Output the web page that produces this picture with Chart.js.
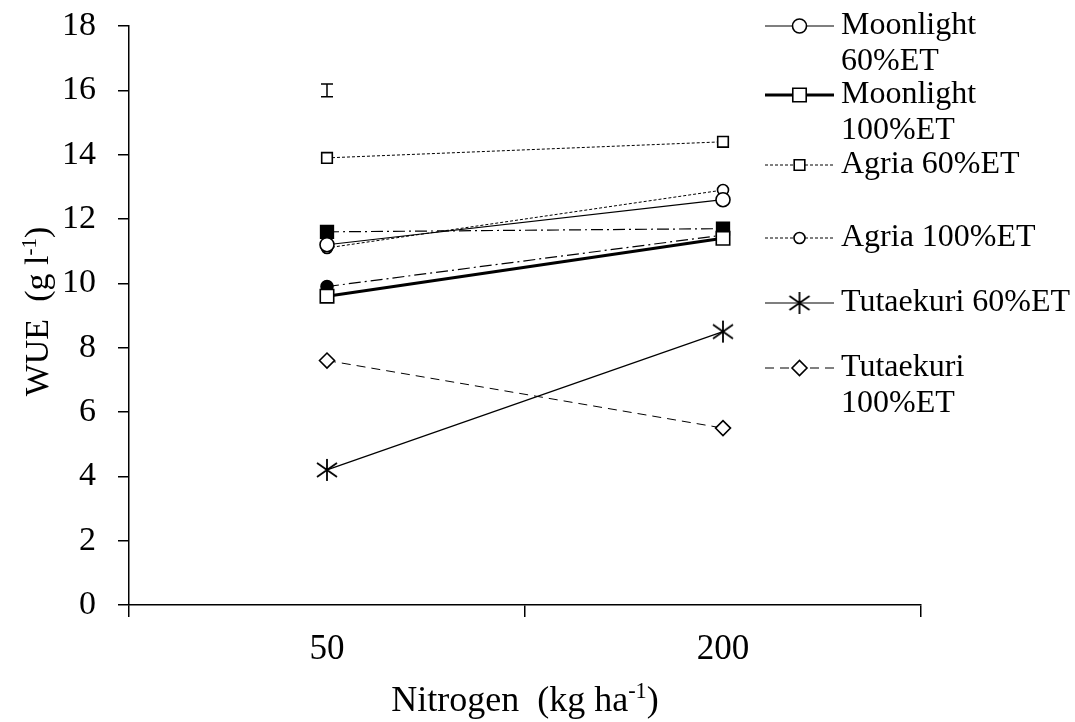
<!DOCTYPE html>
<html>
<head>
<meta charset="utf-8">
<script src="https://cdn.jsdelivr.net/npm/chart.js@4.4.0/dist/chart.umd.min.js"></script>
<style>
  html, body { margin: 0; padding: 0; background: #fff; }
</style>
</head>
<body>
<canvas id="wueChart" width="1075" height="722"></canvas>
<script>
// data
const nitrogenLevels = ['50', '200'];
const moonlight60 = [11.2, 12.6];
const moonlight100 = [9.6, 11.4];
const agria60 = [13.9, 14.4];
const agria100 = [11.1, 12.9];
const tutaekuri60 = [4.2, 8.5];
const tutaekuri100 = [7.6, 5.5];
// two dash-dot series with filled markers that have no legend entry
const filledSquare = [11.6, 11.7];
const filledCircle = [9.9, 11.5];
// LSD error bar drawn above the 50 kg category
const lsdCentre = 16.0;
const lsdHalf = 0.2;

const legendLabels = [
  ['Moonlight', '60%ET'],
  ['Moonlight', '100%ET'],
  ['Agria 60%ET'],
  ['Agria 100%ET'],
  ['Tutaekuri 60%ET'],
  ['Tutaekuri', '100%ET']
];

const FONT = "'Liberation Serif', 'Times New Roman', serif";

// asterisk marker (vertical stroke + two diagonals)
const asterisk = document.createElement('canvas');
asterisk.width = 24;
asterisk.height = 24;
(function () {
  const c = asterisk.getContext('2d');
  c.strokeStyle = '#000';
  c.lineWidth = 1.8;
  c.beginPath();
  c.moveTo(12, 1); c.lineTo(12, 23);
  c.moveTo(2, 5); c.lineTo(22, 19);
  c.moveTo(2, 19); c.lineTo(22, 5);
  c.stroke();
})();

function series(label, data, opts) {
  return Object.assign({
    label: label,
    data: data,
    borderColor: '#000',
    borderWidth: 1.2,
    pointBorderColor: '#000',
    pointBackgroundColor: '#fff',
    pointBorderWidth: 1.6,
    pointRadius: 6,
    tension: 0,
    fill: false
  }, opts);
}

const datasets = [
  series(legendLabels[0].join(' '), moonlight60, { pointStyle: 'circle', pointRadius: 7 }),
  series(legendLabels[1].join(' '), moonlight100, { borderWidth: 3, pointStyle: 'rect', pointRadius: 9.5 }),
  series(legendLabels[2].join(' '), agria60, { borderDash: [3, 2], borderWidth: 1, pointStyle: 'rect', pointRadius: 7.5 }),
  series(legendLabels[3].join(' '), agria100, { borderDash: [3, 2], borderWidth: 1, pointStyle: 'circle', pointRadius: 5.5 }),
  series(legendLabels[4].join(' '), tutaekuri60, { pointStyle: asterisk }),
  series(legendLabels[5].join(' '), tutaekuri100, { borderDash: [9, 6], borderWidth: 1, pointStyle: 'rectRot', pointRadius: 7.5 }),
  series('filled square', filledSquare, { borderDash: [12, 4, 2, 4], borderWidth: 1.2, pointStyle: 'rect', pointRadius: 9, pointBackgroundColor: '#000' }),
  series('filled circle', filledCircle, { borderDash: [12, 4, 2, 4], borderWidth: 1.2, pointStyle: 'circle', pointRadius: 6, pointBackgroundColor: '#000' })
];

function drawMarker(ctx, ds, x, y) {
  const style = ds.pointStyle;
  const r = ds.pointRadius;
  ctx.save();
  ctx.setLineDash([]);
  if (style instanceof HTMLCanvasElement) {
    ctx.drawImage(style, x - style.width / 2, y - style.height / 2);
    ctx.restore();
    return;
  }
  ctx.lineWidth = ds.pointBorderWidth;
  ctx.strokeStyle = '#000';
  ctx.fillStyle = ds.pointBackgroundColor;
  ctx.beginPath();
  if (style === 'circle') {
    ctx.arc(x, y, r, 0, Math.PI * 2);
  } else if (style === 'rect') {
    const s = r * Math.SQRT1_2;
    ctx.rect(x - s, y - s, 2 * s, 2 * s);
  } else if (style === 'rectRot') {
    ctx.moveTo(x - r, y); ctx.lineTo(x, y - r); ctx.lineTo(x + r, y); ctx.lineTo(x, y + r);
    ctx.closePath();
  }
  ctx.fill();
  ctx.stroke();
  ctx.restore();
}

// text with a raised "-1" part
function drawSupText(ctx, parts, x, y, size) {
  let widths = parts.map(p => {
    ctx.font = (p.sup ? size * 0.62 : size) + 'px ' + FONT;
    return ctx.measureText(p.t).width;
  });
  const total = widths.reduce((a, b) => a + b, 0);
  let cx = x - total / 2;
  parts.forEach((p, i) => {
    ctx.font = (p.sup ? size * 0.62 : size) + 'px ' + FONT;
    ctx.fillText(p.t, cx, p.sup ? y - size * 0.36 : y);
    cx += widths[i];
  });
}

const extrasPlugin = {
  id: 'extras',
  afterDatasetsDraw(chart) {
    const ctx = chart.ctx;
    const xs = chart.scales.x;
    const ys = chart.scales.y;

    // LSD bar
    const bx = xs.getPixelForValue(0);
    const yTop = ys.getPixelForValue(lsdCentre + lsdHalf);
    const yBot = ys.getPixelForValue(lsdCentre - lsdHalf);
    ctx.save();
    ctx.strokeStyle = '#000';
    ctx.lineWidth = 1.5;
    ctx.beginPath();
    ctx.moveTo(bx, yTop); ctx.lineTo(bx, yBot);
    ctx.moveTo(bx - 6, yTop); ctx.lineTo(bx + 6, yTop);
    ctx.moveTo(bx - 6, yBot); ctx.lineTo(bx + 6, yBot);
    ctx.stroke();
    ctx.restore();
  },
  afterDraw(chart) {
    const ctx = chart.ctx;
    const area = chart.chartArea;
    ctx.save();
    ctx.fillStyle = '#000';
    ctx.textBaseline = 'alphabetic';
    ctx.textAlign = 'left';

    // x axis title
    drawSupText(ctx, [{ t: 'Nitrogen  (kg ha' }, { t: '-1', sup: true }, { t: ')' }],
      (area.left + area.right) / 2, 711, 36);

    // y axis title, rotated
    ctx.save();
    ctx.translate(48, (area.top + area.bottom) / 2 - 4);
    ctx.rotate(-Math.PI / 2);
    drawSupText(ctx, [{ t: 'WUE  (g l' }, { t: '-1', sup: true }, { t: ')' }], 0, 0, 34);
    ctx.restore();

    // legend
    const legendY = [26, 95, 165, 238, 303, 368];
    const lineX0 = 765, lineX1 = 834, textX = 841, lineGap = 36;
    legendLabels.forEach((lines, i) => {
      const ds = chart.data.datasets[i];
      const y = legendY[i];
      ctx.save();
      ctx.strokeStyle = '#000';
      ctx.lineWidth = ds.borderWidth;
      ctx.setLineDash(ds.borderDash || []);
      ctx.beginPath();
      ctx.moveTo(lineX0, y);
      ctx.lineTo(lineX1, y);
      ctx.stroke();
      ctx.restore();
      drawMarker(ctx, ds, (lineX0 + lineX1) / 2, y);
      ctx.font = '32px ' + FONT;
      ctx.textBaseline = 'middle';
      lines.forEach((t, k) => ctx.fillText(t, textX, y + k * lineGap));
    });
    ctx.restore();
  }
};

const chart = new Chart(document.getElementById('wueChart'), {
  type: 'line',
  data: {
    labels: nitrogenLevels,
    datasets: datasets
  },
  options: {
    responsive: false,
    animation: false,
    layout: {
      padding: { left: 0, right: 154, top: 26, bottom: 0 }
    },
    plugins: {
      legend: { display: false },
      tooltip: { enabled: false }
    },
    scales: {
      x: {
        offset: true,
        grid: {
          offset: true,
          drawOnChartArea: false,
          drawTicks: true,
          tickLength: 12,
          color: '#000',
          lineWidth: 1.5
        },
        border: { color: '#000', width: 1.5 },
        ticks: {
          color: '#000',
          padding: 12,
          font: { family: FONT, size: 35 }
        },
        afterFit(scale) {
          scale.height = 117;
          scale.paddingLeft = 0;
          scale.paddingRight = 0;
        }
      },
      y: {
        min: 0,
        max: 18,
        ticks: {
          stepSize: 2,
          color: '#000',
          padding: 22,
          font: { family: FONT, size: 34 }
        },
        grid: {
          drawOnChartArea: false,
          drawTicks: true,
          tickLength: 11,
          color: '#000',
          lineWidth: 1.5
        },
        border: { color: '#000', width: 1.5 },
        afterFit(scale) {
          scale.width = 129;
          scale.paddingTop = 0;
          scale.paddingBottom = 0;
        }
      }
    }
  },
  plugins: [extrasPlugin]
});
</script>
</body>
</html>
